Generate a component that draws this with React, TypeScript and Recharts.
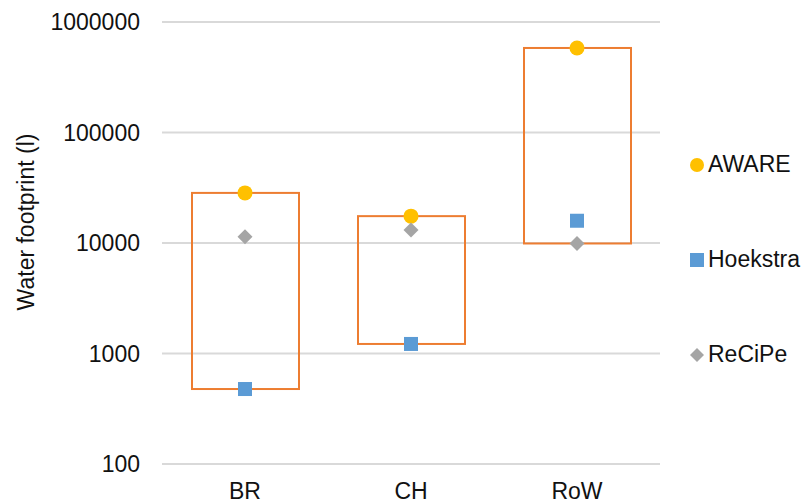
import React from 'react';
import { ComposedChart, Bar, Scatter, XAxis, YAxis, CartesianGrid, Legend } from 'recharts';

// Regions and water footprint results (litres) per impact method
const regions = ['BR', 'CH', 'RoW'];
const aware = [28400, 17500, 582000];
const hoekstra = [477, 1220, 15900];
const recipe = [11400, 13100, 9900];
const yTicks = [100, 1000, 10000, 100000, 1000000];

const COLORS = {
  aware: '#FFC000',
  hoekstra: '#5B9BD5',
  recipe: '#A5A5A5',
  box: '#ED7D31',
  grid: '#D9D9D9',
  text: '#111111',
};

const FONT = 'Liberation Sans, Arial, sans-serif';
const FS = 23;

// Each region carries its three results plus the min–max range drawn as a box
const data = regions.map((r, i) => {
  const vals = [aware[i], hoekstra[i], recipe[i]];
  return {
    region: r,
    AWARE: aware[i],
    Hoekstra: hoekstra[i],
    ReCiPe: recipe[i],
    range: [Math.min(...vals), Math.max(...vals)],
  };
});

const CircleMark = (p: any) => <circle cx={p.cx} cy={p.cy} r={7.5} fill={COLORS.aware} />;
const SquareMark = (p: any) => (
  <rect x={p.cx - 7} y={p.cy - 7} width={14} height={14} fill={COLORS.hoekstra} />
);
const DiamondMark = (p: any) => (
  <polygon
    points={`${p.cx},${p.cy - 7.5} ${p.cx + 7.5},${p.cy} ${p.cx},${p.cy + 7.5} ${p.cx - 7.5},${p.cy}`}
    fill={COLORS.recipe}
  />
);

const BoxShape = (p: any) => (
  <rect
    x={p.x}
    y={p.y}
    width={p.width}
    height={p.height}
    fill="none"
    stroke={COLORS.box}
    strokeWidth={2}
  />
);

const legendItems = [
  { name: 'AWARE', marker: (cx: number, cy: number) => <circle cx={cx} cy={cy} r={7} fill={COLORS.aware} /> },
  { name: 'Hoekstra', marker: (cx: number, cy: number) => <rect x={cx - 7} y={cy - 7} width={14} height={14} fill={COLORS.hoekstra} /> },
  {
    name: 'ReCiPe',
    marker: (cx: number, cy: number) => (
      <polygon points={`${cx},${cy - 7} ${cx + 7},${cy} ${cx},${cy + 7} ${cx - 7},${cy}`} fill={COLORS.recipe} />
    ),
  },
];

const LegendContent = () => (
  <div style={{ fontFamily: FONT, fontSize: FS, color: COLORS.text }}>
    {legendItems.map((it) => (
      <div key={it.name} style={{ height: 95, display: 'flex', alignItems: 'center' }}>
        <svg width={20} height={20} style={{ marginRight: 1 }}>
          {it.marker(10, 10)}
        </svg>
        <span>{it.name}</span>
      </div>
    ))}
  </div>
);

const YLabel = () => (
  <text
    x={26}
    y={222}
    transform="rotate(-90, 26, 222)"
    textAnchor="middle"
    dominantBaseline="central"
    fontFamily={FONT}
    fontSize={FS}
    fill={COLORS.text}
  >
    Water footprint (l)
  </text>
);

export default function App() {
  return (
    <div style={{ position: 'absolute', left: 0, top: 0, background: '#fff' }}>
      <ComposedChart
        width={806}
        height={504}
        data={data}
        margin={{ top: 22, right: 146, bottom: 0, left: 0 }}
      >
        <CartesianGrid vertical={false} stroke={COLORS.grid} strokeWidth={2} />
        <XAxis
          dataKey="region"
          height={40}
          axisLine={false}
          tickLine={false}
          tickSize={0}
          tickMargin={19}
          tick={{ fontFamily: FONT, fontSize: FS, fill: COLORS.text }}
        />
        <YAxis
          scale="log"
          domain={[100, 1000000]}
          ticks={yTicks}
          allowDataOverflow
          width={162}
          axisLine={false}
          tickLine={false}
          tickSize={0}
          tickMargin={22}
          interval={0}
          tick={{ fontFamily: FONT, fontSize: FS, fill: COLORS.text }}
          label={<YLabel />}
        />
        <Bar dataKey="range" barSize={107} shape={<BoxShape />} isAnimationActive={false} legendType="none" />
        <Scatter dataKey="AWARE" shape={<CircleMark />} isAnimationActive={false} />
        <Scatter dataKey="Hoekstra" shape={<SquareMark />} isAnimationActive={false} />
        <Scatter dataKey="ReCiPe" shape={<DiamondMark />} isAnimationActive={false} />
        <Legend
          layout="vertical"
          align="center"
          verticalAlign="middle"
          content={<LegendContent />}
          wrapperStyle={{ position: 'absolute', left: 687, top: 117, width: 119, height: 285 }}
        />
      </ComposedChart>
    </div>
  );
}
